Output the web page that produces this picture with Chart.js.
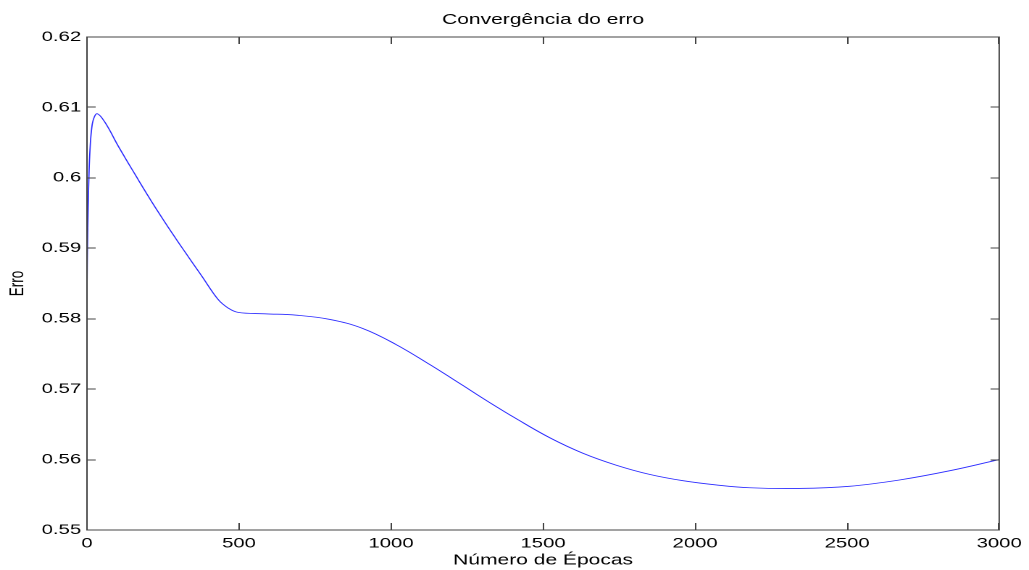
<!DOCTYPE html>
<html>
<head>
<meta charset="utf-8">
<title>Convergência do erro</title>
<script src="https://cdn.jsdelivr.net/npm/chart.js@4/dist/chart.umd.min.js"></script>
<style>
  html, body { margin: 0; padding: 0; background: #fff; overflow: hidden; }
  /* the figure is laid out narrow and widened horizontally, like the original wide-aspect export */
  #wrap { position: absolute; left: 0; top: 0; width: 710px; height: 570px;
          transform: scaleX(1.449296); transform-origin: 0 0; }
  canvas { display: block; }
</style>
</head>
<body>
<div id="wrap"><canvas id="c" width="710" height="570"></canvas></div>
<script>
// Training error per epoch
const epochs = [0, 1, 2, 4, 7, 10, 15, 22, 34, 59, 103, 158, 213, 267, 322, 377, 432, 465, 497,
                585, 689, 799, 908, 1018, 1127, 1237, 1302, 1412, 1522, 1631, 1741, 1850, 1960,
                2069, 2179, 2343, 2507, 2672, 2836, 3000];
const erro = [0.5830, 0.5880, 0.5907, 0.5959, 0.6010, 0.6040, 0.6068, 0.6084, 0.6091, 0.6079,
              0.6045, 0.6005, 0.5966, 0.5930, 0.5895, 0.5861, 0.5827, 0.5815, 0.5809,
              0.5807, 0.5805, 0.5799, 0.5786, 0.5763, 0.5735, 0.5705, 0.5687, 0.5658, 0.5631,
              0.5609, 0.5592, 0.5579, 0.5570, 0.5564, 0.5560, 0.5559, 0.5562, 0.5571, 0.5584,
              0.5600];

// Axis ticks
const xTicks = [0, 500, 1000, 1500, 2000, 2500, 3000];
const xTickLabels = ['0', '500', '1000', '1500', '2000', '2500', '3000'];
const yTicks = [0.55, 0.56, 0.57, 0.58, 0.59, 0.60, 0.61, 0.62];
const yTickLabels = ['0.55', '0.56', '0.57', '0.58', '0.59', '0.6', '0.61', '0.62'];

// Texts
const chartTitle = 'Convergência do erro';
const xTitle = 'Número de Épocas';
const yTitle = 'Erro';

const FONT = '"Liberation Sans", Arial, Helvetica, sans-serif';

// Box around the axes with inward tick marks on all four sides, plus the title
const boxAxes = {
  id: 'boxAxes',
  afterDatasetsDraw(chart) {
    const { ctx, chartArea: a, scales: { x, y } } = chart;
    ctx.save();
    ctx.strokeStyle = '#444';
    ctx.lineWidth = 1;
    ctx.beginPath();
    ctx.rect(a.left, a.top, a.right - a.left, a.bottom - a.top);
    xTicks.forEach(v => {
      const px = Math.round(x.getPixelForValue(v));
      ctx.moveTo(px, a.bottom); ctx.lineTo(px, a.bottom - 7);
      ctx.moveTo(px, a.top);    ctx.lineTo(px, a.top + 7);
    });
    yTicks.forEach(v => {
      const py = Math.round(y.getPixelForValue(v));
      ctx.moveTo(a.left, py);  ctx.lineTo(a.left + 6, py);
      ctx.moveTo(a.right, py); ctx.lineTo(a.right - 6, py);
    });
    ctx.stroke();

    ctx.fillStyle = '#000';
    ctx.font = '14.5px ' + FONT;
    ctx.textAlign = 'center';
    ctx.textBaseline = 'middle';
    ctx.fillText(chartTitle, (a.left + a.right) / 2, 20);
    ctx.restore();
  }
};

new Chart(document.getElementById('c'), {
  type: 'line',
  data: {
    datasets: [{
      data: epochs.map((e, i) => ({ x: e, y: erro[i] })),
      borderColor: '#2a2aff',
      borderWidth: 0.85,
      pointRadius: 0,
      fill: false,
      tension: 0.4
    }]
  },
  options: {
    responsive: false,
    devicePixelRatio: 2,
    animation: false,
    layout: { padding: { top: 37, right: 20, bottom: 0, left: 0 } },
    plugins: {
      legend: { display: false },
      title: { display: false },
      tooltip: { enabled: false }
    },
    scales: {
      x: {
        type: 'linear',
        min: 0,
        max: 3000,
        afterBuildTicks: s => { s.ticks = xTicks.map(v => ({ value: v })); },
        afterFit: s => { s.height = 40; },
        grid: { display: false, drawTicks: false },
        border: { display: false },
        ticks: {
          callback: (v, i) => xTickLabels[i],
          color: '#000',
          font: { family: FONT, size: 14 },
          padding: 5,
          maxRotation: 0,
          autoSkip: false
        },
        title: {
          display: true,
          text: xTitle,
          color: '#000',
          font: { family: FONT, size: 14.5 },
          padding: { top: 0, bottom: 1 }
        }
      },
      y: {
        type: 'linear',
        min: 0.55,
        max: 0.62,
        afterBuildTicks: s => { s.ticks = yTicks.map(v => ({ value: v })); },
        afterFit: s => { s.width = 60; },
        grid: { display: false, drawTicks: false },
        border: { display: false },
        ticks: {
          callback: (v, i) => yTickLabels[i],
          color: '#000',
          font: { family: FONT, size: 14 },
          padding: 4,
          autoSkip: false
        },
        title: {
          display: true,
          text: yTitle,
          color: '#000',
          font: { family: FONT, size: 13.5 },
          padding: { top: 4, bottom: 0 }
        }
      }
    }
  },
  plugins: [boxAxes]
});
</script>
</body>
</html>
